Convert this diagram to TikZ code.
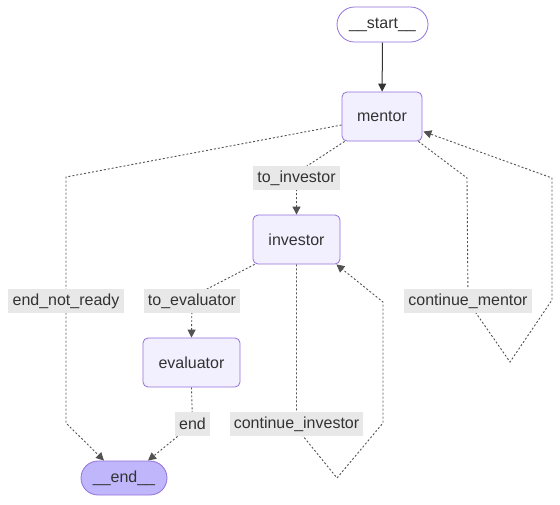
\documentclass[tikz,border=0pt]{standalone}
\usepackage{fontspec}
\setmainfont{Liberation Sans}
\usetikzlibrary{arrows.meta,calc,backgrounds}
\definecolor{nodefill}{HTML}{F2F0FF}
\definecolor{endfill}{HTML}{BFB6FC}
\definecolor{nodeborder}{HTML}{9370DB}
\definecolor{txt}{HTML}{333333}
\definecolor{lblbg}{HTML}{E8E8E8}
\definecolor{edgecol}{HTML}{333333}
\tikzset{
  gnode/.style={draw=nodeborder, line width=0.8pt, fill=nodefill, rounded corners=5pt,
    inner sep=0pt, text=txt, font=\fontsize{16}{19}\selectfont},
  stadium/.style={draw=nodeborder, line width=0.8pt, inner sep=0pt, text=txt,
    font=\fontsize{16}{19}\selectfont},
  elabel/.style={fill=lblbg, inner sep=0pt, minimum height=24pt, text=txt,
    font=\fontsize{16}{19}\selectfont},
  solidedge/.style={draw=edgecol, line width=1pt, -{Triangle[length=8pt,width=8pt]}},
  dotedge/.style={draw=edgecol!85, line width=0.9pt, dash pattern=on 2pt off 2pt,
    -{Triangle[length=8pt,width=8pt]}},
}
\begin{document}
\begin{tikzpicture}[x=1pt,y=-1pt]
\useasboundingbox (0,0) rectangle (560,504);
% nodes
\node[stadium, fill=white, rounded corners=17.5pt, minimum width=91pt, minimum height=35pt] (start) at (382.5,24.5) {\_\_start\_\_};
\node[gnode, minimum width=80pt, minimum height=49pt] (mentor) at (382,116.5) {mentor};
\node[gnode, minimum width=87pt, minimum height=49pt] (investor) at (296.5,239.5) {investor};
\node[gnode, minimum width=97pt, minimum height=49pt] (evaluator) at (191.5,362.5) {evaluator};
\node[stadium, fill=endfill, rounded corners=17pt, minimum width=86pt, minimum height=34pt] (end) at (124,478) {\_\_end\_\_};
% edge labels
\node[elabel, minimum width=87pt] (toinv) at (296.5,178) {to\_investor};
\node[elabel, minimum width=116pt] (enr) at (66,301) {end\_not\_ready};
\node[elabel, minimum width=96pt] (toeval) at (192,301) {to\_evaluator};
\node[elabel, minimum width=128pt] (cment) at (468,301) {continue\_mentor};
\node[elabel, minimum width=35pt] (endl) at (192.5,424) {end};
\node[elabel, minimum width=133pt] (cinv) at (296.5,424) {continue\_investor};
% bend points
\coordinate (a1) at (307,166);
\coordinate (b1) at (66,177);
\coordinate (b2) at (66,423);
\coordinate (c1) at (207,289);
\coordinate (d1) at (296.5,428);
\coordinate (d2) at (337,478);
\coordinate (d3) at (383,423);
\coordinate (d4) at (383,302);
\coordinate (e1) at (467,178);
\coordinate (e2) at (467,300);
\coordinate (e3) at (510,362);
\coordinate (e4) at (552,300);
\coordinate (e5) at (552,178);
\coordinate (f1) at (191.5,425);
\begin{pgfonlayer}{background}
\fill[white] (0,0) rectangle (560,504);
\draw[solidedge] (start) -- (mentor);
\draw[dotedge] ($(mentor.south west)+(3,0)$) -- (a1) -- (toinv.center) -- (investor.north);
\draw[dotedge] ($(mentor.west)+(0,8.5)$) -- (b1) -- (enr.center) -- (b2) -- ($(end.north)+(-20,0)$);
\draw[dotedge] ($(investor.south west)+(2,0)$) -- (c1) -- (toeval.center) -- (evaluator.north);
\draw[dotedge] (investor.south) -- (cinv.center) -- (d1) -- (d2) -- (d3) -- (d4) -- ($(investor.south east)+(-4,0)$);
\draw[dotedge] ($(mentor.south east)+(-4,0)$) -- (e1) -- (cment.center) -- (e2) -- (e3) -- (e4) -- (e5) -- ($(mentor.east)+(1,15)$);
\draw[dotedge] (evaluator.south) -- (endl.center) -- (f1) -- ($(end.north)+(24,0)$);
\end{pgfonlayer}
\end{tikzpicture}
\end{document}
